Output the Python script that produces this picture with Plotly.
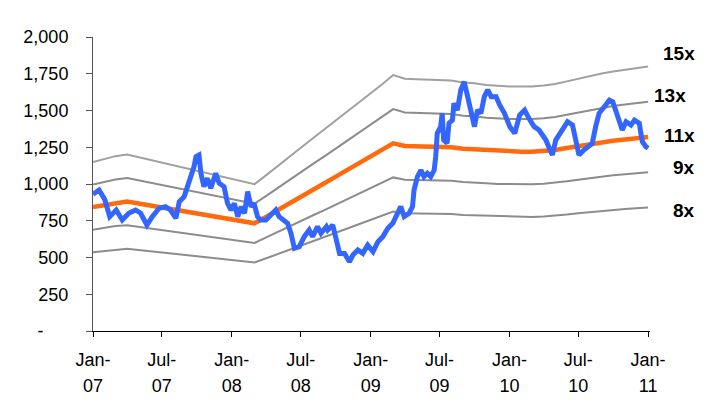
import plotly.graph_objects as go
import pandas as pd

# Index level (daily close, sampled)
price_dates = [
    "2007-01-01", "2007-01-17", "2007-02-01", "2007-02-14", "2007-03-03", "2007-03-19",
    "2007-04-05", "2007-04-23", "2007-05-06", "2007-05-23", "2007-06-06", "2007-06-24",
    "2007-07-11", "2007-07-24", "2007-08-07", "2007-08-16", "2007-08-29", "2007-09-07",
    "2007-09-16", "2007-09-24", "2007-09-29", "2007-10-07", "2007-10-12", "2007-10-20",
    "2007-10-29", "2007-11-07", "2007-11-20", "2007-11-29", "2007-12-12", "2007-12-21",
    "2007-12-30", "2008-01-08", "2008-01-17", "2008-01-26", "2008-02-04", "2008-02-12",
    "2008-02-21", "2008-02-29", "2008-03-09", "2008-03-17", "2008-03-31", "2008-04-13",
    "2008-04-26", "2008-05-05", "2008-05-18", "2008-05-27", "2008-06-05", "2008-06-14",
    "2008-06-27", "2008-07-10", "2008-07-23", "2008-08-01", "2008-08-14", "2008-08-23",
    "2008-09-06", "2008-09-10", "2008-09-23", "2008-10-02", "2008-10-11", "2008-10-24",
    "2008-11-06", "2008-11-15", "2008-11-28", "2008-12-11", "2008-12-24", "2009-01-07",
    "2009-01-20", "2009-02-02", "2009-02-15", "2009-02-28", "2009-03-12", "2009-03-21",
    "2009-03-30", "2009-04-12", "2009-04-21", "2009-04-25", "2009-05-04", "2009-05-13",
    "2009-05-21", "2009-05-30", "2009-06-08", "2009-06-17", "2009-06-21", "2009-06-25",
    "2009-07-04", "2009-07-08", "2009-07-12", "2009-07-21", "2009-07-26", "2009-08-04",
    "2009-08-08", "2009-08-17", "2009-08-26", "2009-09-04", "2009-09-13", "2009-09-22",
    "2009-10-01", "2009-10-09", "2009-10-18", "2009-10-27", "2009-11-05", "2009-11-14",
    "2009-11-27", "2009-12-06", "2009-12-19", "2010-01-02", "2010-01-15", "2010-01-28",
    "2010-02-10", "2010-02-24", "2010-03-07", "2010-03-20", "2010-04-07", "2010-04-16",
    "2010-04-24", "2010-05-03", "2010-05-16", "2010-06-03", "2010-06-16", "2010-06-25",
    "2010-07-03", "2010-07-16", "2010-07-30", "2010-08-07", "2010-08-16", "2010-08-25",
    "2010-09-08", "2010-09-21", "2010-09-30", "2010-10-08", "2010-10-17", "2010-10-25",
    "2010-11-04", "2010-11-17", "2010-11-26", "2010-12-09", "2010-12-13", "2010-12-17",
    "2010-12-26", "2011-01-01",
]
price_values = [
    930, 959, 895, 778, 823, 755,
    801, 823, 803, 721, 778, 835,
    846, 823, 767, 880, 914, 982,
    1050, 1118, 1186, 1197, 1073, 982,
    1039, 971, 1073, 1005, 982, 869,
    823, 869, 778, 846, 801, 948,
    846, 869, 778, 755, 755, 789,
    823, 778, 755, 733, 665, 563,
    574, 642, 687, 642, 710, 665,
    710, 687, 721, 619, 528, 528,
    471, 517, 551, 528, 585, 540,
    608, 642, 699, 733, 801, 846,
    778, 801, 846, 959, 1050, 1095,
    1050, 1073, 1050, 1095, 1186, 1345,
    1390, 1481, 1299, 1277, 1413, 1435,
    1549, 1503, 1640, 1696, 1594, 1503,
    1390, 1503, 1481, 1594, 1640, 1594,
    1594, 1540, 1481, 1390, 1345, 1469,
    1503, 1435, 1390, 1367, 1299, 1243,
    1197, 1299, 1356, 1424, 1401, 1299,
    1197, 1231, 1254, 1277, 1390, 1481,
    1526, 1571, 1560, 1503, 1435, 1367,
    1424, 1401, 1435, 1413, 1345, 1288,
    1254, 1243,
]

# Forward earnings per share, month-start values Jan-07 .. Jan-11
eps_dates = pd.date_range("2007-01-01", "2011-01-01", freq="MS")
eps_values = [
    76.6, 78.0, 79.3, 80.0, 78.8, 77.5, 76.4, 75.1, 73.9, 72.7, 71.5, 70.3,
    69.1, 67.8, 66.6, 70.7, 74.9, 79.0, 83.1, 87.3, 91.4, 95.5, 99.6, 103.7,
    107.8, 112.0, 116.1, 114.4, 114.2, 114.0, 114.0, 113.6, 112.7, 112.4, 111.6, 111.1,
    110.9, 110.9, 110.9, 111.3, 112.0, 113.2, 114.4, 115.6, 116.8, 117.7, 118.5, 119.3,
    120.0,
]

# P/E band multiples and their labels
band_multiples = [7, 9, 13, 15]
band_labels = ["8x", "9x", "13x", "15x"]
center_multiple = 11
center_label = "11x"

# Axis ticks
tick_dates = ["2007-01-01", "2007-07-01", "2008-01-01", "2008-07-01", "2009-01-01",
              "2009-07-01", "2010-01-01", "2010-07-01", "2011-01-01"]
tick_months = ["Jan-", "Jul-", "Jan-", "Jul-", "Jan-", "Jul-", "Jan-", "Jul-", "Jan-"]
tick_years = ["07", "07", "08", "08", "09", "09", "10", "10", "11"]
y_ticks = [0, 250, 500, 750, 1000, 1250, 1500, 1750, 2000]
y_tick_text = ["-" + "\u00a0" * 5, "250", "500", "750", "1,000", "1,250", "1,500", "1,750", "2,000"]

FONT = "Liberation Sans, Arial, sans-serif"

fig = go.Figure()

band_colors = {7: "#8c8c8c", 9: "#8c8c8c", 13: "#8c8c8c", 15: "#a0a0a0"}
for m in band_multiples:
    fig.add_trace(go.Scatter(
        x=eps_dates, y=[e * m for e in eps_values], mode="lines",
        line=dict(color=band_colors[m], width=2), showlegend=False, hoverinfo="skip",
    ))

fig.add_trace(go.Scatter(
    x=eps_dates, y=[e * center_multiple for e in eps_values], mode="lines",
    line=dict(color="#ff6a0d", width=4.5), showlegend=False,
))

fig.add_trace(go.Scatter(
    x=price_dates, y=price_values, mode="lines",
    line=dict(color="#3366ff", width=5), showlegend=False,
))

# empty trace so the year-label axis is created
fig.add_trace(go.Scatter(x=[], y=[], xaxis="x2", showlegend=False))

# multiple labels at the right edge
label_pos = {"15x": (1.0844, 1891), "13x": (1.068, 1605), "11x": (1.0844, 1327),
             "9x": (1.0844, 1109), "8x": (1.0844, 823)}
for lab in band_labels + [center_label]:
    px_, py_ = label_pos[lab]
    fig.add_annotation(
        x=px_, y=py_, xref="paper", yref="y", text=f"<b>{lab}</b>",
        showarrow=False, xanchor="right", yanchor="middle",
        font=dict(family=FONT, size=19, color="#000000"),
    )

x_range = ["2007-01-01", "2011-01-06"]

fig.update_layout(
    width=714, height=403,
    margin=dict(l=93, r=64, t=37, b=72, autoexpand=False),
    paper_bgcolor="white", plot_bgcolor="white",
    xaxis=dict(
        type="date", range=x_range, tickmode="array", tickvals=tick_dates, ticktext=tick_months,
        showgrid=False, zeroline=False, showline=True, linecolor="#000000", linewidth=1,
        ticks="outside", ticklen=5, tickcolor="#000000", automargin=False,
        tickfont=dict(family=FONT, size=18, color="#000000"), ticklabelstandoff=7,
    ),
    xaxis2=dict(
        type="date", range=x_range, overlaying="x", anchor="y", side="bottom",
        tickmode="array", tickvals=tick_dates, ticktext=tick_years, automargin=False,
        showgrid=False, zeroline=False, showline=False, ticks="",
        tickfont=dict(family=FONT, size=18, color="#000000"), ticklabelstandoff=42,
    ),
    yaxis=dict(
        range=[0, 2000], tickmode="array", tickvals=y_ticks, ticktext=y_tick_text,
        showgrid=False, zeroline=False, showline=True, linecolor="#555555", linewidth=1,
        ticks="outside", ticklen=6, tickcolor="#555555", automargin=False,
        tickfont=dict(family=FONT, size=18, color="#000000"), ticklabelstandoff=14,
    ),
)

fig.write_html("out.html")
